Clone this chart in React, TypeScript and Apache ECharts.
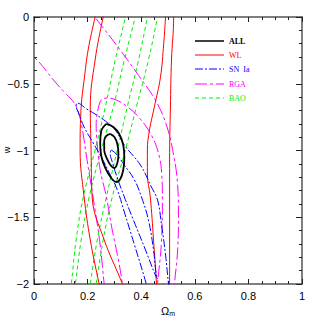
import React, { useEffect, useRef } from "react";
import * as echarts from "echarts";

// Contour traces [Ω_m, w] (points beyond the frame only close the curves outside the clip)
const allOuter = [
  [0.27, -0.801], [0.296, -0.824], [0.318, -0.876], [0.333, -0.959], [0.337, -1.056],
  [0.333, -1.146], [0.322, -1.213], [0.307, -1.236], [0.288, -1.206], [0.266, -1.131],
  [0.251, -1.041], [0.247, -0.944], [0.251, -0.854], [0.27, -0.801],
];
const allInner = [
  [0.285, -0.876], [0.3, -0.899], [0.311, -0.951], [0.315, -1.026], [0.311, -1.094],
  [0.3, -1.131], [0.288, -1.116], [0.273, -1.064], [0.262, -0.996], [0.262, -0.929],
  [0.27, -0.891], [0.285, -0.876],
];
const wlOuter = [
  [0.26, -2.15], [0.243, -2.0], [0.21, -1.67], [0.187, -1.348], [0.172, -0.996],
  [0.176, -0.674], [0.187, -0.472], [0.202, -0.247], [0.228, 0], [0.24, 0.1],
  [0.52, 0.1], [0.521, 0], [0.513, -0.322], [0.509, -0.674], [0.506, -1.071],
  [0.506, -1.521], [0.506, -2.0], [0.505, -2.15],
];
const wlInner = [
  [0.35, -2.12], [0.33, -2.0], [0.262, -1.67], [0.217, -1.348], [0.213, -0.996],
  [0.21, -0.674], [0.228, -0.322], [0.258, 0], [0.27, 0.1], [0.495, 0.1],
  [0.491, 0], [0.484, -0.2], [0.472, -0.449], [0.449, -0.674], [0.431, -0.846],
  [0.423, -0.996], [0.423, -1.176], [0.434, -1.348], [0.446, -1.67], [0.457, -2.0],
  [0.46, -2.12],
];
const snOuter = [
  [0.43, -2.1], [0.419, -2.0], [0.375, -1.708], [0.337, -1.461], [0.311, -1.296],
  [0.285, -1.184], [0.251, -1.049], [0.221, -0.944], [0.187, -0.824], [0.165, -0.712],
  [0.157, -0.667], [0.161, -0.645], [0.175, -0.655], [0.191, -0.682], [0.228, -0.727],
  [0.266, -0.779], [0.303, -0.846], [0.337, -0.959], [0.397, -1.109], [0.438, -1.273],
  [0.461, -1.371], [0.476, -1.558], [0.491, -1.783], [0.502, -2.0], [0.51, -2.1],
];
const snInner = [
  [0.288, -0.996], [0.307, -1.026], [0.337, -1.109], [0.375, -1.221], [0.401, -1.348],
  [0.427, -1.521], [0.446, -1.745], [0.455, -1.91], [0.461, -1.963], [0.452, -1.93],
  [0.416, -1.745], [0.371, -1.521], [0.337, -1.348], [0.311, -1.206], [0.292, -1.086],
  [0.284, -1.02], [0.288, -0.996],
];
const rgaOuter = [
  [-0.1, 0.2], [-0.05, -0.25], [0, -0.3], [0.079, -0.487], [0.116, -0.569],
  [0.15, -0.644], [0.169, -0.734], [0.184, -0.884], [0.195, -1.034], [0.21, -1.221],
  [0.228, -1.446], [0.247, -1.708], [0.262, -2.0], [0.27, -2.1], [0.52, -2.1],
  [0.524, -2.0], [0.536, -1.745], [0.539, -1.483], [0.536, -1.258], [0.521, -1.034],
  [0.494, -0.809], [0.453, -0.622], [0.397, -0.457], [0.341, -0.3], [0.285, -0.15],
  [0.228, 0], [0.2, 0.1], [0.1, 0.2],
];
const rgaInner = [
  [0.335, -2.1], [0.33, -2.0], [0.315, -1.82], [0.292, -1.596], [0.27, -1.348],
  [0.247, -1.146], [0.236, -0.959], [0.232, -0.809], [0.24, -0.682], [0.255, -0.614],
  [0.277, -0.607], [0.307, -0.622], [0.345, -0.667], [0.39, -0.749], [0.431, -0.861],
  [0.461, -0.996], [0.476, -1.161], [0.479, -1.371], [0.476, -1.67], [0.461, -2.0],
  [0.457, -2.1],
];
const baoOuter = [
  [0.13, -2.1], [0.139, -2.0], [0.157, -1.67], [0.184, -1.348], [0.228, -0.996],
  [0.266, -0.674], [0.303, -0.322], [0.341, 0], [0.35, 0.1], [0.47, 0.1],
  [0.461, 0], [0.427, -0.322], [0.382, -0.674], [0.341, -0.996], [0.292, -1.348],
  [0.258, -1.67], [0.232, -2.0], [0.225, -2.1],
];
const baoInner = [
  [0.145, -2.1], [0.154, -2.0], [0.176, -1.67], [0.206, -1.348], [0.251, -0.996],
  [0.296, -0.674], [0.337, -0.322], [0.378, 0], [0.39, 0.1], [0.43, 0.1],
  [0.423, 0], [0.39, -0.322], [0.348, -0.674], [0.311, -0.996], [0.27, -1.348],
  [0.236, -1.67], [0.21, -2.0], [0.203, -2.1],
];

const legendNames = ["ALL", "WL", "SN  Ia", "RGA", "BAO"];
const legendColors = ["#000000", "#ff0000", "#0000ff", "#ff00ff", "#00ee00"];
const legendDash: (number[] | null)[] = [null, null, [8, 2, 2, 2], [12, 3, 3, 3], [4, 3]];
const legendY = [41, 55, 69, 84, 98];

const axisColor = "#555";

function mk(name: string, data: number[][], color: string, width: number, dash: number[] | null, z: number) {
  return {
    name,
    type: "line",
    data,
    showSymbol: false,
    symbol: "none",
    smooth: 0.4,
    clip: true,
    z,
    lineStyle: { color, width, type: dash ? dash : "solid" },
    silent: true,
  };
}

export default function App() {
  const ref = useRef<HTMLDivElement>(null);
  useEffect(() => {
    const chart = echarts.init(ref.current!, null, { renderer: "svg" });
    const baseAxis = {
      type: "value",
      splitLine: { show: false },
      axisLine: { show: true, onZero: false, lineStyle: { color: axisColor, width: 1.5 } },
      axisTick: { show: true, inside: true, length: 5, lineStyle: { color: "#222", width: 1 } },
    };
    const labelStyle = { color: "#000", fontSize: 11, fontFamily: "Liberation Sans" };
    const legendGraphics: any[] = [];
    legendNames.forEach((n, i) => {
      legendGraphics.push({
        type: "line",
        shape: { x1: 195, y1: legendY[i], x2: 224, y2: legendY[i] },
        style: {
          stroke: legendColors[i],
          lineWidth: i === 0 ? 1.5 : 1,
          lineDash: legendDash[i] || null,
        },
      });
      legendGraphics.push({
        type: "text",
        x: 229,
        y: legendY[i],
        style: {
          text: n,
          fill: legendColors[i],
          font: (i === 0 ? "bold " : "") + "8px 'Liberation Serif'",
          verticalAlign: "middle",
          align: "left",
        },
      });
    });
    // y-axis title
    legendGraphics.push({
      type: "text",
      x: 7,
      y: 150,
      rotation: Math.PI / 2,
      style: {
        text: "w",
        fill: "#000",
        font: "9px 'Liberation Sans'",
        align: "center",
        verticalAlign: "middle",
      },
    });
    chart.setOption({
      animation: false,
      backgroundColor: "#fff",
      grid: { left: 34, right: 17, top: 17, bottom: 35, containLabel: false, outerBoundsMode: "none" },
      xAxis: [
        {
          ...baseAxis,
          min: 0,
          max: 1,
          interval: 0.2,
          position: "bottom",
          minorTick: { show: true, splitNumber: 4, length: 3, lineStyle: { color: "#222" } },
          axisLabel: { ...labelStyle, margin: 6 },
          name: "Ω{sub|m}",
          nameLocation: "middle",
          nameGap: 19,
          nameTextStyle: {
            color: "#000",
            fontSize: 11,
            fontFamily: "Liberation Sans",
            rich: { sub: { fontSize: 7, verticalAlign: "bottom", padding: [4, 0, 0, 0], fontFamily: "Liberation Sans" } },
          },
        },
        {
          ...baseAxis,
          min: 0,
          max: 1,
          interval: 0.2,
          position: "top",
          minorTick: { show: true, splitNumber: 4, length: 3, lineStyle: { color: "#222" } },
          axisLabel: { show: false },
        },
      ],
      yAxis: [
        {
          ...baseAxis,
          min: -2,
          max: 0,
          interval: 0.5,
          position: "left",
          axisTick: { show: true, inside: true, length: 6, lineStyle: { color: "#222", width: 1 } },
          minorTick: { show: true, splitNumber: 5, length: 3, lineStyle: { color: "#222" } },
          axisLabel: {
            ...labelStyle,
            margin: 5,
            formatter: (v: number) => (v === 0 ? "0" : String(v).replace("-", "\u2212")),
          },
        },
        {
          ...baseAxis,
          min: -2,
          max: 0,
          interval: 0.5,
          position: "right",
          axisTick: { show: true, inside: true, length: 6, lineStyle: { color: "#222", width: 1 } },
          minorTick: { show: true, splitNumber: 5, length: 3, lineStyle: { color: "#222" } },
          axisLabel: { show: false },
        },
      ],
      series: [
        mk("BAO outer", baoOuter, "#00ee00", 1, [4, 3], 2),
        mk("BAO inner", baoInner, "#00ee00", 1, [4, 3], 2),
        mk("RGA outer", rgaOuter, "#ff00ff", 1, [12, 3, 3, 3], 3),
        mk("RGA inner", rgaInner, "#ff00ff", 1, [12, 3, 3, 3], 3),
        mk("WL outer", wlOuter, "#ff0000", 1, null, 4),
        mk("WL inner", wlInner, "#ff0000", 1, null, 4),
        mk("SN Ia outer", snOuter, "#0000ff", 1, [8, 2, 2, 2], 5),
        mk("SN Ia inner", snInner, "#0000ff", 1, [8, 2, 2, 2], 5),
        mk("ALL outer", allOuter, "#000000", 1.8, null, 6),
        mk("ALL inner", allInner, "#000000", 1.8, null, 6),
      ],
      graphic: legendGraphics,
    });
    return () => chart.dispose();
  }, []);
  return <div ref={ref} style={{ position: "absolute", left: 0, top: 0, width: 319, height: 319 }} />;
}
